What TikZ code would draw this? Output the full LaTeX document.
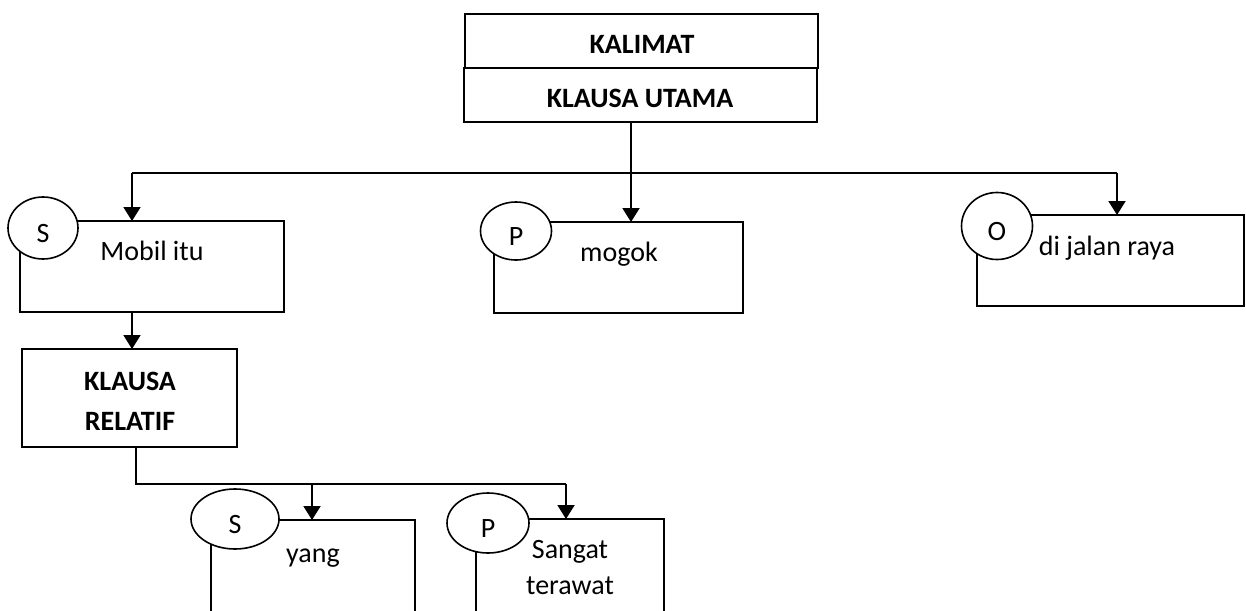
\documentclass[tikz,border=0pt]{standalone}
\usepackage{fontspec}
\setmainfont{Carlito}
\usetikzlibrary{arrows.meta,shapes.geometric}
\begin{document}
\begin{tikzpicture}[x=1pt,y=-1pt,
  line width=1.9pt,
  every node/.style={font=\fontsize{28}{34}\selectfont},
  box/.style n args={2}{draw, rectangle, inner sep=0pt, outer sep=0pt,
    minimum width=#1, minimum height=#2},
  role/.style n args={2}{draw, line width=1.6pt, ellipse, fill=white, inner sep=0pt, outer sep=0pt,
    minimum width=#1, minimum height=#2, text height=28pt, text depth=0pt},
  word/.style={anchor=base, inner sep=0pt},
  head/.style={font=\fontsize{28}{40}\selectfont\bfseries, align=center, inner sep=0pt},
  arr/.style={-{Triangle[width=17pt,length=14pt]}}
]
\clip (0,0) rectangle (1246,610);

% sentence and main clause
\node[box={353pt}{54pt}] (kalimat) at (641.5,41) {};
\node[box={353pt}{54pt}] (utama) at (640.5,95) {};
\node[word, font=\fontsize{28}{34}\selectfont\bfseries] (tKal) at (642,53) {KALIMAT};
\node[word, font=\fontsize{28}{34}\selectfont\bfseries] (tUta) at (640,107) {KLAUSA UTAMA};

% constituents of the main clause
\node[box={264pt}{91pt}] (mobil) at (152,266.5) {};
\node[box={249pt}{91pt}] (mogok) at (618.5,267.5) {};
\node[box={267pt}{91pt}] (jalan) at (1110.5,260.5) {};
\node[word] (tMob) at (152,260) {Mobil itu};
\node[word] (tMog) at (619,261) {mogok};
\node[word] (tJal) at (1107,255) {di jalan raya};

% relative clause
\node[box={215pt}{98pt}] (relatif) at (129.5,398) {};
\node[head] (tRel) at (130,401) {KLAUSA\\RELATIF};

% constituents of the relative clause
\node[box={204pt}{130pt}] (yang) at (313,585) {};
\node[box={188pt}{131pt}] (terawat) at (570,584.5) {};
\node[word] (tYang) at (313,562) {yang};
\node[align=center, inner sep=0pt, font=\fontsize{28}{36}\selectfont] (tTer) at (570,568) {Sangat\\terawat};

% function labels
\node[role={70pt}{62pt}] (sA) at (43,228) {S};
\node[role={71pt}{58pt}] (pA) at (516,231) {P};
\node[role={71pt}{67pt}] (oA) at (997,226) {O};
\node[role={88pt}{60pt}] (sB) at (235,519) {S};
\node[role={82pt}{60pt}] (pB) at (488,523) {P};

% connectors from the main clause
\coordinate (j1) at (631,173);
\coordinate (bL) at (132,173);
\coordinate (bR) at (1117,173);
\draw (utama.south -| j1) -- (j1);
\draw (bL) -- (bR);
\draw[arr] (bL) -- (bL |- mobil.north);
\draw[arr] (j1) -- (j1 |- mogok.north);
\draw[arr] (bR) -- (bR |- jalan.north);

% subject to relative clause
\draw[arr] (bL |- mobil.south) -- (bL |- relatif.north);

% connectors from the relative clause
\coordinate (k) at (136,484);
\coordinate (bM2) at (312,484);
\coordinate (bR2) at (566,484);
\draw (relatif.south -| k) -- (k) -- (bR2);
\draw[arr] (bM2) -- (bM2 |- yang.north);
\draw[arr] (bR2) -- (bR2 |- terawat.north);
\end{tikzpicture}
\end{document}
